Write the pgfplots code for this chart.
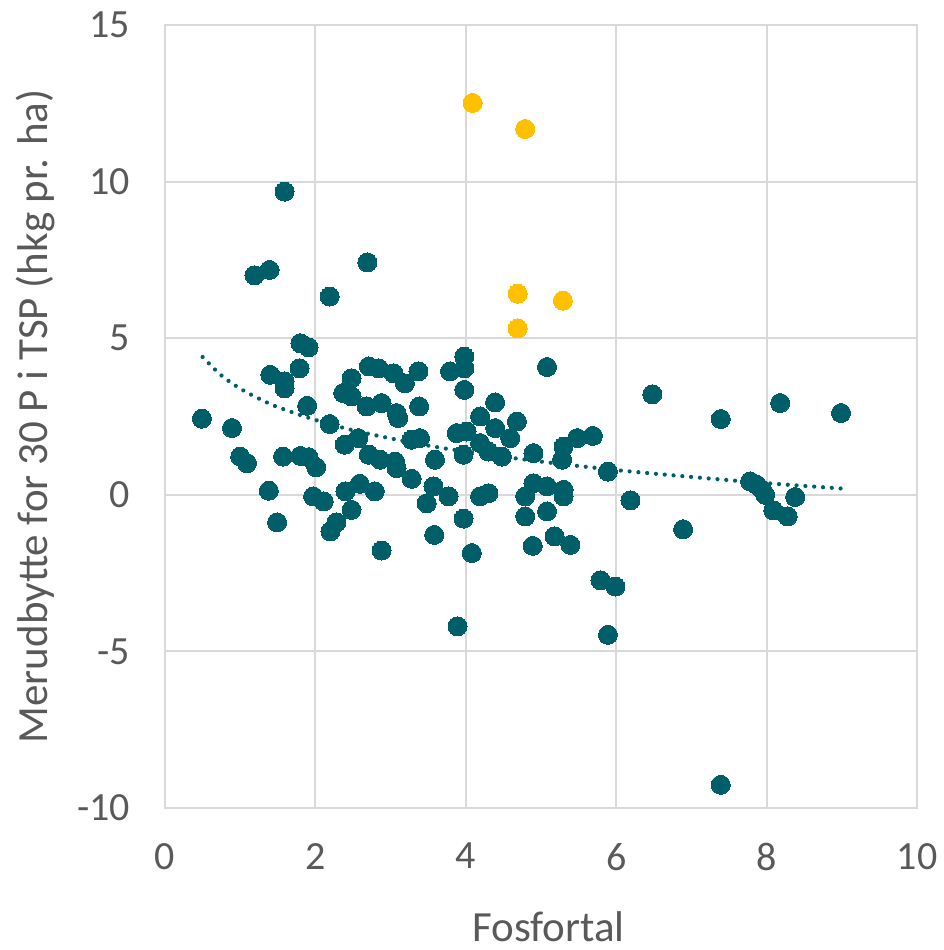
\documentclass[border=0pt]{standalone}
\usepackage{pgfplots}
\pgfplotsset{compat=1.18}
\usepackage{fontspec}
\setmainfont{Carlito}
\definecolor{teal1}{RGB}{0,94,104}
\definecolor{gold1}{RGB}{255,192,0}
\definecolor{gridgray}{RGB}{217,217,217}
\definecolor{txtgray}{RGB}{89,89,89}
\begin{document}
\begin{tikzpicture}
\begin{axis}[
  scale only axis, width=376pt, height=391.5pt,
  xmin=0, xmax=10, ymin=-10, ymax=15,
  xtick={0,2,...,10}, ytick={-10,-5,...,15},
  grid=major, major grid style={draw=gridgray, line width=1pt},
  axis line style={draw=gridgray, line width=1pt},
  tick style={draw=none},
  /pgf/number format/assume math mode=true,
  ticklabel style={font=\fontsize{20}{24}\selectfont, text=txtgray},
  yticklabel style={xshift=-14pt},
  xticklabel style={yshift=-14pt},
  xlabel={Fosfortal},
  ylabel={Merudbytte for 30 P i TSP (hkg pr. ha)},
  label style={font=\fontsize{21.5}{25}\selectfont, text=txtgray, inner sep=0pt},
  xlabel style={at={(axis description cs:0.51,-0.152)}, anchor=center},
  ylabel style={at={(axis description cs:-0.1729,0.5)}, anchor=center},
  clip=false,
]
\addplot[teal1, line width=2.1pt, line cap=round, dash pattern=on 0.01pt off 4.4pt, smooth] coordinates {
(0.5,4.40) (0.75,3.81) (1,3.39) (1.25,3.07) (1.5,2.80) (2,2.39) (2.5,2.06) (3,1.80) (3.5,1.57) (4,1.38) (5,1.06) (6,0.79) (7,0.57) (8,0.37) (9,0.20)
};
\addplot[teal1, only marks, mark=*, mark size=4.75pt, mark options={draw=teal1, fill=teal1, line width=0pt}] coordinates {
(0.49,2.43) (0.89,2.13) (1.00,1.22) (1.09,1.01) (1.19,7.01) (1.39,7.18) (1.38,0.13) (1.49,-0.88)
(1.40,3.83) (1.59,9.68) (1.59,3.62) (1.59,3.40) (1.57,1.22) (1.80,4.84) (1.91,4.71) (1.79,4.04)
(1.80,1.24) (1.91,1.20) (2.01,0.88) (1.89,2.84) (1.97,-0.05) (2.11,-0.21) (2.28,-0.88) (2.20,-1.17)
(2.19,2.26) (2.19,6.33) (2.37,3.25) (2.48,3.14) (2.48,3.72) (2.39,1.60) (2.57,1.81) (2.71,1.28)
(2.86,1.12) (3.06,1.06) (3.08,0.85) (3.28,0.51) (2.68,2.82) (2.88,2.93) (3.08,2.61) (3.10,2.45)
(3.38,2.82) (2.40,0.11) (2.59,0.35) (2.79,0.11) (2.48,-0.48) (2.88,-1.78) (2.69,7.42) (2.71,4.10)
(2.84,4.04) (3.04,3.88) (3.19,3.56) (3.37,3.94) (3.79,3.94) (3.98,4.41) (3.98,4.04) (3.98,3.35)
(3.28,1.76) (3.39,1.81) (3.59,1.12) (3.57,0.27) (3.48,-0.27) (3.77,-0.05) (3.58,-1.28) (3.88,1.97)
(4.01,2.02) (3.97,1.28) (3.97,-0.76) (4.08,-1.86) (4.19,2.50) (4.39,2.95) (4.39,2.13) (4.68,2.34)
(4.59,1.81) (4.19,1.65) (4.30,1.38) (4.48,1.22) (4.90,1.33) (5.30,1.54) (5.28,1.12) (5.48,1.81)
(5.69,1.88) (5.89,0.74) (5.08,4.08) (6.48,3.21) (4.19,-0.05) (4.30,0.05) (4.79,-0.05) (4.90,0.37)
(5.08,0.27) (5.30,0.16) (5.30,-0.05) (5.08,-0.53) (4.79,-0.69) (5.18,-1.33) (5.39,-1.60) (4.89,-1.63)
(6.19,-0.18) (6.89,-1.10) (7.39,2.42) (8.18,2.93) (8.99,2.61) (7.78,0.43) (7.87,0.32) (7.94,0.16)
(7.98,0.00) (8.38,-0.07) (8.09,-0.50) (8.28,-0.69) (5.79,-2.73) (5.99,-2.93) (3.89,-4.20) (5.89,-4.47)
(7.39,-9.26)
};
\addplot[gold1, only marks, mark=*, mark size=4.75pt, mark options={draw=gold1, fill=gold1, line width=0pt}] coordinates {
(4.09,12.51) (4.79,11.68) (4.69,6.42) (5.29,6.20) (4.69,5.31)
};
\coordinate (bl) at (rel axis cs:0,0);
\coordinate (tr) at (rel axis cs:1,1);
\end{axis}
\pgfresetboundingbox
\path[use as bounding box] ([xshift=-82.5pt,yshift=-71pt]bl) rectangle ([xshift=13pt,yshift=12.5pt]tr);
\end{tikzpicture}
\end{document}
